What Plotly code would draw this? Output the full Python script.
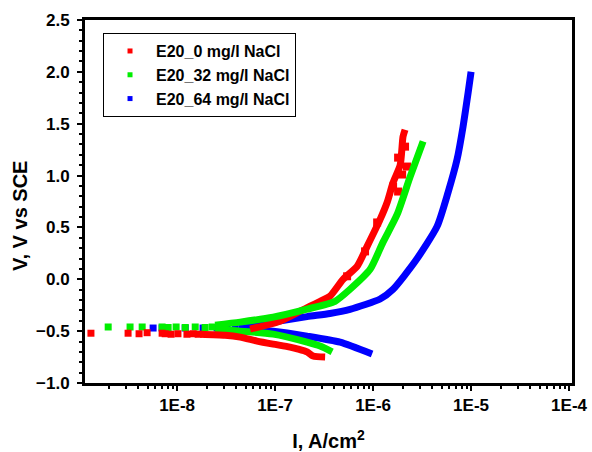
import plotly.graph_objects as go

# ---- data (I in A/cm2, V vs SCE) ----
series_names = ["E20_0 mg/l NaCl", "E20_32 mg/l NaCl", "E20_64 mg/l NaCl"]
colors = ["#ff0000", "#00ee00", "#0000ff"]

# red: 0 mg/l
red_sparse_I = [1.32e-9, 3.16e-9, 4.09e-9, 4.94e-9, 7.03e-9, 7.55e-9, 8.68e-9, 1.02e-8, 1.26e-8, 1.46e-8, 1.64e-8]
red_sparse_V = [-0.52, -0.52, -0.525, -0.515, -0.52, -0.525, -0.53, -0.525, -0.53, -0.525, -0.53]
red_cath_I = [1.72e-8, 3.09e-8, 4.40e-8, 6.55e-8, 9.55e-8, 1.42e-7, 1.72e-7, 2.12e-7, 2.44e-7, 3.24e-7]
red_cath_V = [-0.53, -0.54, -0.558, -0.596, -0.625, -0.654, -0.673, -0.70, -0.74, -0.75]
red_anod_I = [5.56e-8, 1.12e-7, 1.80e-7, 2.28e-7, 2.88e-7, 3.63e-7, 4.94e-7, 6.87e-7, 8.69e-7, 1.18e-6, 1.39e-6, 1.60e-6, 1.89e-6, 2.02e-6, 2.12e-6]
red_anod_V = [-0.481, -0.404, -0.308, -0.26, -0.212, -0.163, 0.0, 0.125, 0.317, 0.577, 0.74, 0.933, 1.10, 1.375, 1.442]
red_scatter_I = [1.80e-6, 2.22e-6, 1.98e-6, 1.60e-6, 2.12e-6, 1.10e-6, 1.80e-6, 8.28e-7, 5.43e-7]
red_scatter_V = [1.173, 1.087, 1.01, 0.894, 1.279, 0.548, 0.846, 0.269, 0.029]

# green: 32 mg/l
green_sparse_I = [1.98e-9, 3.31e-9, 4.40e-9, 7.03e-9, 8.1e-9, 9.77e-9, 1.21e-8, 1.53e-8, 1.93e-8, 2.28e-8]
green_sparse_V = [-0.46, -0.46, -0.46, -0.46, -0.465, -0.46, -0.465, -0.46, -0.465, -0.46]
green_cath_I = [2.44e-8, 4.40e-8, 9.55e-8, 2.12e-7, 2.88e-7, 3.82e-7]
green_cath_V = [-0.49, -0.50, -0.529, -0.606, -0.644, -0.70]
green_anod_I = [2.44e-8, 4.40e-8, 9.55e-8, 2.12e-7, 4.09e-7, 5.82e-7, 9.33e-7, 1.26e-6, 1.76e-6, 2.39e-6, 3.24e-6]
green_anod_V = [-0.442, -0.413, -0.365, -0.288, -0.212, -0.096, 0.096, 0.356, 0.625, 0.99, 1.33]

# blue: 64 mg/l
blue_sparse_I = [5.69e-9, 7.03e-9, 1.21e-8, 1.84e-8, 2.56e-8, 3.24e-8, 3.91e-8, 4.6e-8]
blue_sparse_V = [-0.47, -0.47, -0.47, -0.47, -0.47, -0.47, -0.47, -0.47]
blue_cath_I = [4.94e-8, 9.55e-8, 2.12e-7, 4.60e-7, 9.77e-7]
blue_cath_V = [-0.48, -0.50, -0.548, -0.606, -0.72]
blue_anod_I = [4.94e-8, 9.55e-8, 2.12e-7, 3.63e-7, 5.82e-7, 1.18e-6, 1.60e-6, 2.69e-6, 4.50e-6, 5.82e-6, 7.19e-6, 8.28e-6, 9.33e-6, 1.0e-5]
blue_anod_V = [-0.462, -0.413, -0.36, -0.33, -0.29, -0.19, -0.096, 0.173, 0.51, 0.837, 1.154, 1.471, 1.798, 2.0]

x_tickvals = [1e-8, 1e-7, 1e-6, 1e-5, 1e-4]
x_ticktext = ["1E-8", "1E-7", "1E-6", "1E-5", "1E-4"]
y_tickvals = [-1.0, -0.5, 0.0, 0.5, 1.0, 1.5, 2.0, 2.5]

FONT = "Liberation Sans, Arial, sans-serif"
LW = 7

fig = go.Figure()

def dense(xs, ys, color):
    fig.add_trace(go.Scatter(x=xs, y=ys, mode="lines", showlegend=False,
                             line=dict(color=color, width=LW, shape="spline", smoothing=0.6),
                             hoverinfo="skip"))

def sparse(xs, ys, color, size=7):
    fig.add_trace(go.Scatter(x=xs, y=ys, mode="markers", showlegend=False,
                             marker=dict(color=color, symbol="square", size=size, line=dict(width=0)),
                             hoverinfo="skip"))

# blue first (bottom), then green, then red on top
dense(blue_cath_I, blue_cath_V, colors[2])
dense(blue_anod_I, blue_anod_V, colors[2])
sparse(blue_sparse_I, blue_sparse_V, colors[2])

dense(green_cath_I, green_cath_V, colors[1])
sparse(green_sparse_I, green_sparse_V, colors[1])

dense(red_cath_I, red_cath_V, colors[0])
dense(red_anod_I, red_anod_V, colors[0])
sparse(red_scatter_I, red_scatter_V, colors[0], size=8)
sparse(red_sparse_I, red_sparse_V, colors[0])

dense(green_anod_I, green_anod_V, colors[1])

# legend entries
for name, c in zip(series_names, colors):
    fig.add_trace(go.Scatter(x=[None], y=[None], mode="markers", name=name,
                             marker=dict(color=c, symbol="square", size=5)))

axis_common = dict(showline=True, linewidth=3, linecolor="black", mirror=True,
                   ticks="outside", tickwidth=2, ticklen=5, tickcolor="black",
                   showgrid=False, zeroline=False, automargin=False,
                   tickfont=dict(family=FONT, size=17, color="black", weight="bold"))

fig.update_xaxes(type="log", range=[-8.94, -3.97], tickvals=x_tickvals, ticktext=x_ticktext,
                 minor=dict(ticks="outside", ticklen=3, tickwidth=2, tickcolor="black",
                            tickvals=[m * 10.0 ** e for e in range(-9, -4) for m in range(2, 10)]),
                 title=dict(text="I, A/cm<sup>2</sup>", standoff=20,
                            font=dict(family=FONT, size=20, color="black", weight="bold")),
                 **axis_common)
fig.update_yaxes(range=[-1.0, 2.5], tickvals=y_tickvals, tickformat=".1f", ticklabelstandoff=4,
                 minor=dict(ticks="outside", ticklen=3, tickwidth=2, tickcolor="black", dtick=0.1),
                 **axis_common)

fig.add_annotation(text="<b>V, V vs SCE</b>", textangle=-90, xref="paper", yref="paper",
                   x=-0.1335, y=0.46, xanchor="center", yanchor="middle", showarrow=False,
                   font=dict(family=FONT, size=20, color="black"))

fig.update_layout(
    width=592, height=452,
    margin=dict(l=85, r=20, t=20, b=69),
    paper_bgcolor="white", plot_bgcolor="white",
    font=dict(family=FONT, color="black"),
    legend=dict(x=0.037, y=0.964, xanchor="left", yanchor="top",
                bordercolor="black", borderwidth=1, bgcolor="white",
                font=dict(family=FONT, size=16, color="black", weight="bold"),
                itemwidth=42, tracegroupgap=0),
)

fig.write_html("out.html", config={"displayModeBar": False},
               post_script="document.body.style.margin='0';")
